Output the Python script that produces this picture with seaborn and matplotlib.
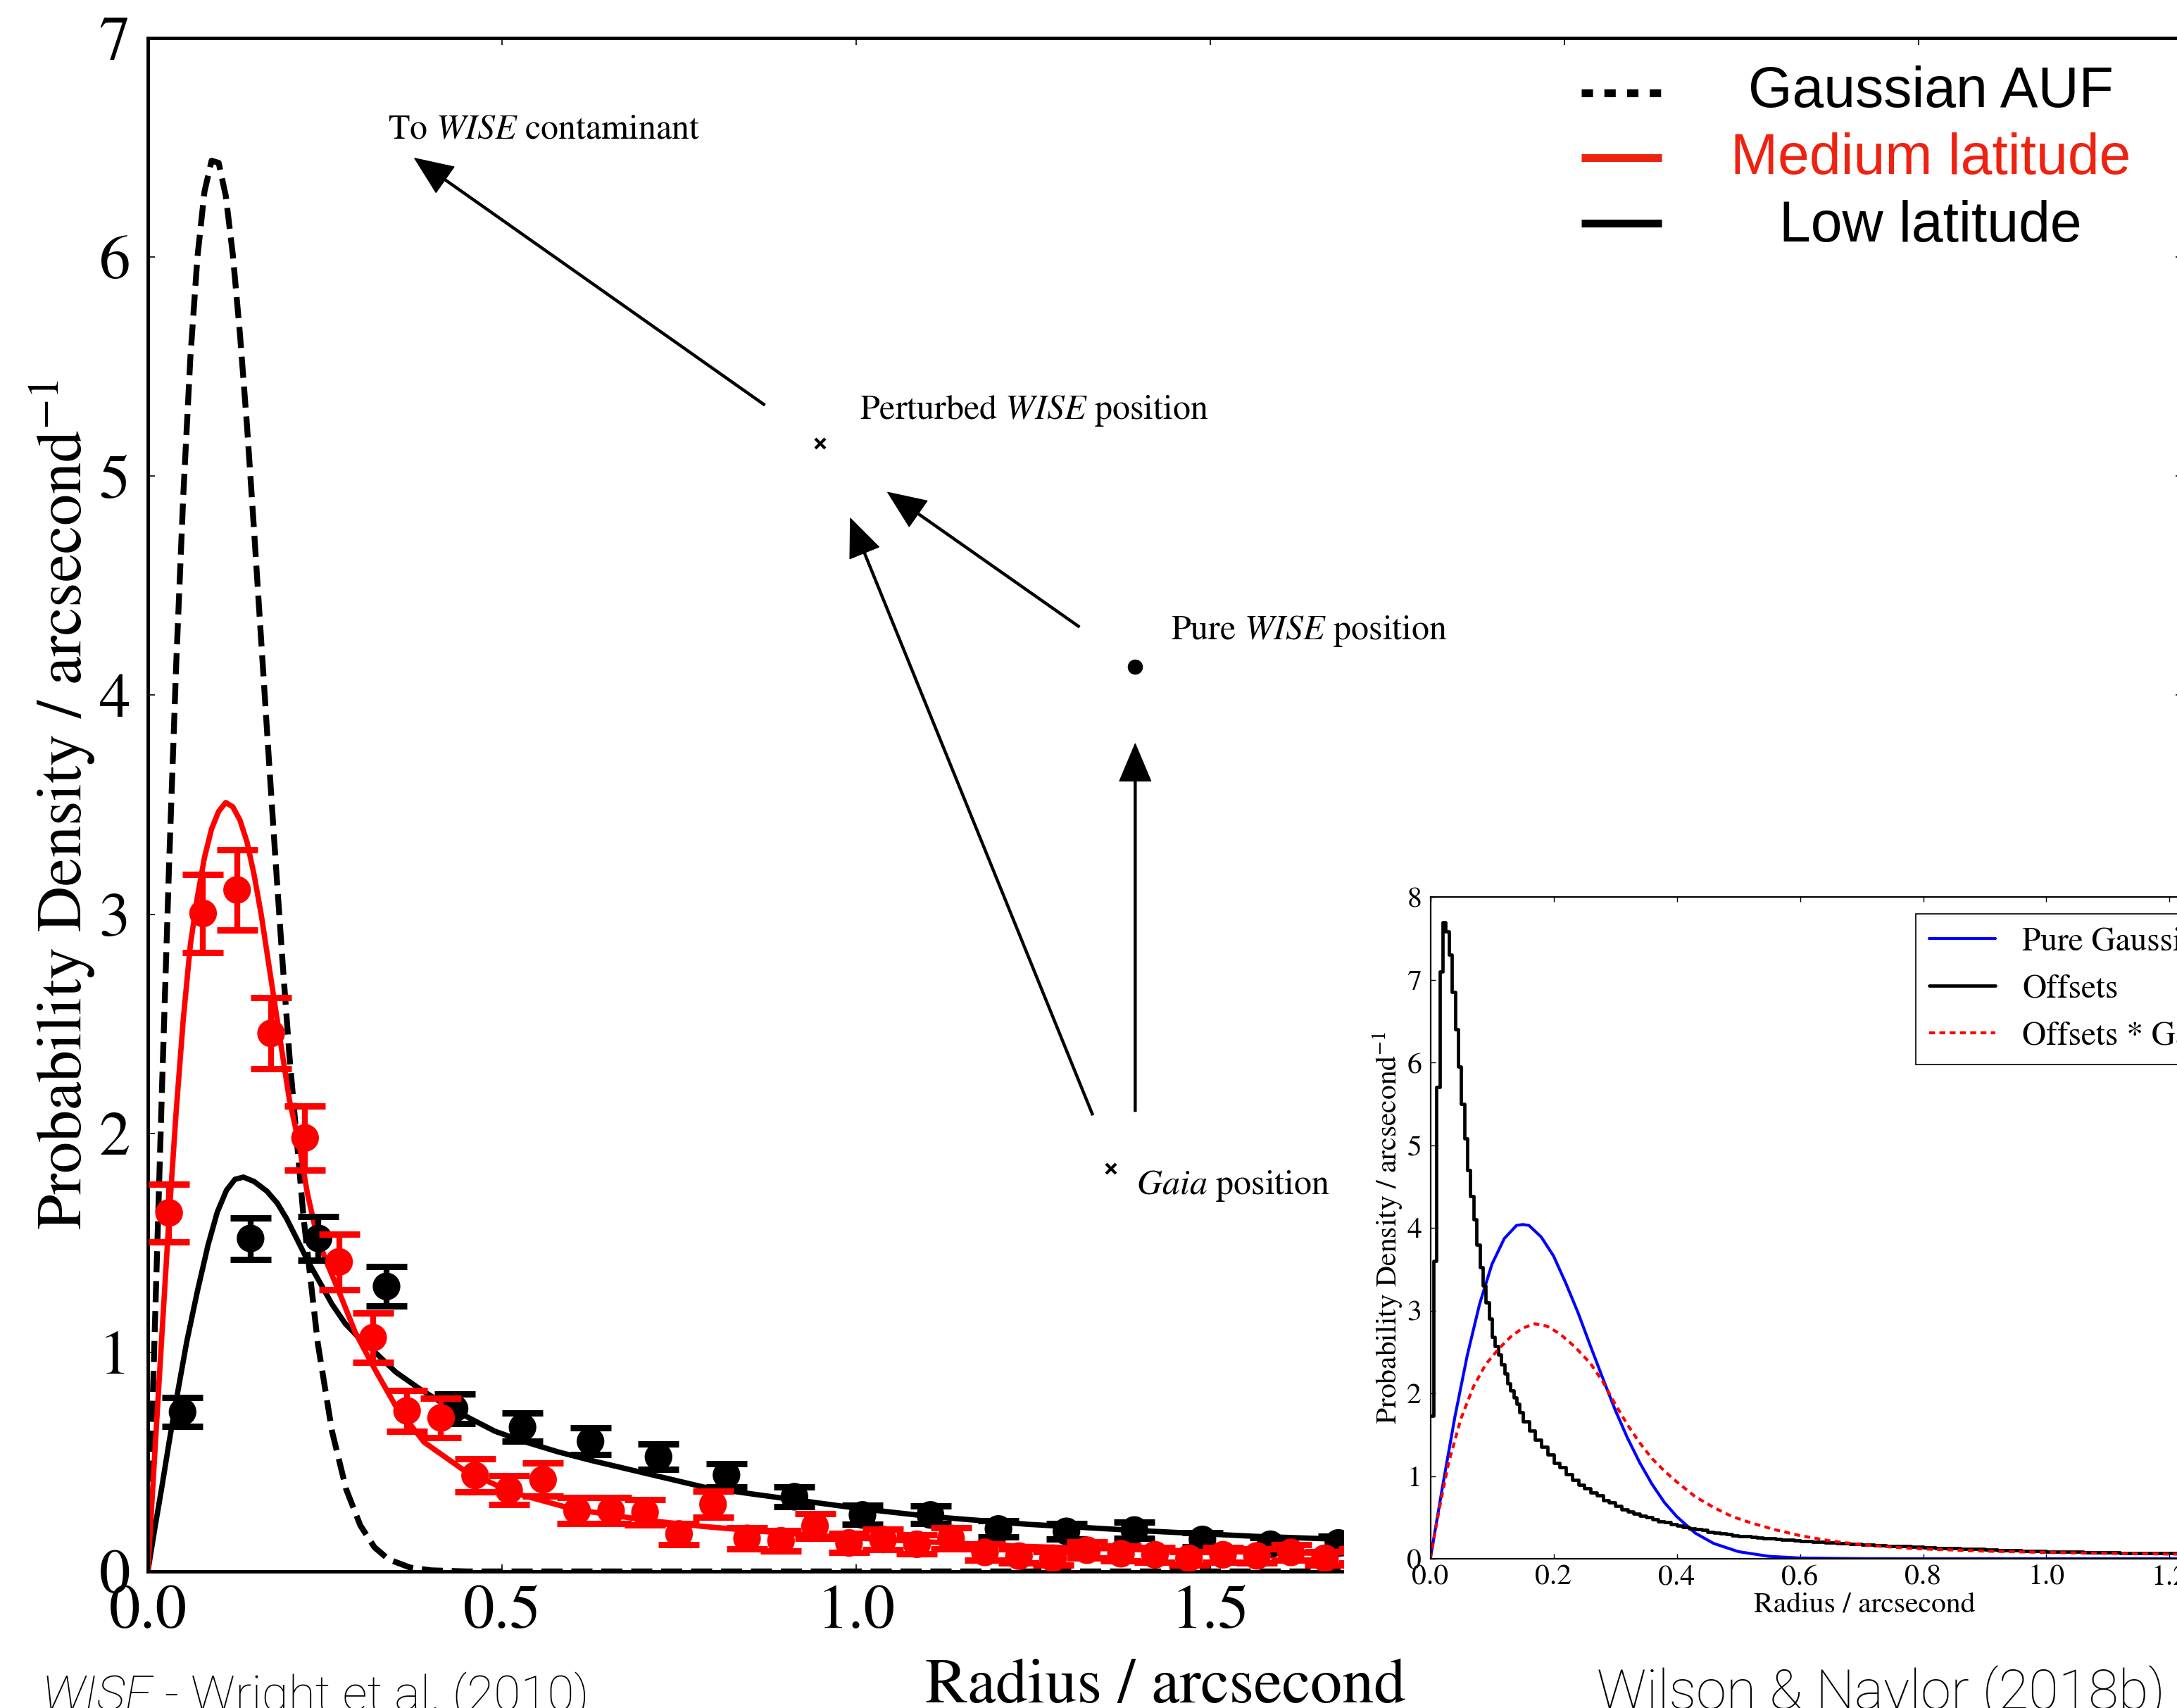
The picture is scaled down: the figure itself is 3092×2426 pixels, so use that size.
import numpy as np
import matplotlib
matplotlib.use("Agg")
import matplotlib.pyplot as plt
import seaborn as sns
from matplotlib.lines import Line2D
from matplotlib.patches import Rectangle

# ---------------- main panel: radial offset distributions ----------------
# Gaussian astrometric uncertainty function
gauss_r = [0.0, 0.01, 0.02, 0.03, 0.04, 0.05, 0.06, 0.07, 0.08, 0.09, 0.10, 0.11,
           0.12, 0.13, 0.14, 0.15, 0.16, 0.17, 0.18, 0.19, 0.20, 0.22, 0.24, 0.26,
           0.28, 0.30, 0.32, 0.34, 0.37, 0.40, 0.45, 0.50, 0.70, 1.00, 1.30, 1.70]
gauss_pdf = [0.0, 1.13, 2.21, 3.23, 4.14, 4.91, 5.54, 6.00, 6.30, 6.44, 6.43, 6.28,
             6.01, 5.65, 5.23, 4.75, 4.25, 3.75, 3.26, 2.79, 2.35, 1.61, 1.04, 0.64,
             0.375, 0.21, 0.11, 0.055, 0.018, 0.005, 0.0, 0.0, 0.0, 0.0, 0.0, 0.0]

# model fit, medium latitude
med_fit_r = [0.0, 0.01, 0.02, 0.03, 0.04, 0.05, 0.06, 0.07, 0.08, 0.09, 0.10, 0.11,
             0.12, 0.13, 0.14, 0.15, 0.16, 0.175, 0.19, 0.20, 0.213, 0.225, 0.2375,
             0.25, 0.272, 0.293, 0.321, 0.349, 0.39, 0.447, 0.515, 0.60, 0.70, 0.785,
             0.885, 0.985, 1.08, 1.24, 1.45, 1.70]
med_fit_pdf = [0.0, 0.55, 1.09, 1.62, 2.10, 2.52, 2.86, 3.08, 3.26, 3.39, 3.47, 3.51,
               3.49, 3.43, 3.33, 3.18, 3.00, 2.68, 2.36, 2.15, 1.96, 1.73, 1.55,
               1.43, 1.26, 1.09, 0.92, 0.76, 0.59, 0.46, 0.36, 0.285, 0.235, 0.205,
               0.178, 0.155, 0.138, 0.114, 0.095, 0.08]

# model fit, low latitude
low_fit_r = [0.0, 0.01, 0.02, 0.03, 0.04, 0.055, 0.07, 0.085, 0.098, 0.111, 0.123,
             0.135, 0.15, 0.168, 0.183, 0.196, 0.21, 0.227, 0.2445, 0.26, 0.279,
             0.30, 0.321, 0.35, 0.384, 0.42, 0.454, 0.49, 0.53, 0.58, 0.628, 0.70,
             0.785, 0.85, 0.911, 1.01, 1.107, 1.2425, 1.395, 1.564, 1.70]
low_fit_pdf = [0.0, 0.20, 0.39, 0.59, 0.78, 1.05, 1.28, 1.49, 1.64, 1.74, 1.79,
               1.80, 1.78, 1.736, 1.68, 1.61, 1.52, 1.41, 1.31, 1.22, 1.13,
               1.06, 1.00, 0.91, 0.833, 0.76, 0.70, 0.64, 0.594, 0.545, 0.505, 0.45,
               0.385, 0.355, 0.328, 0.285, 0.25, 0.215, 0.187, 0.16, 0.145]

# binned WISE-Gaia separations, medium latitude
med_r = [0.030, 0.078, 0.126, 0.174, 0.222, 0.270, 0.318, 0.366, 0.414, 0.462,
         0.510, 0.558, 0.606, 0.654, 0.702, 0.750, 0.798, 0.846, 0.894, 0.942,
         0.990, 1.038, 1.086, 1.134, 1.182, 1.230, 1.278, 1.326, 1.374, 1.422,
         1.470, 1.518, 1.566, 1.614, 1.662, 1.710]
med_pdf = [1.637, 3.004, 3.111, 2.456, 1.979, 1.413, 1.067, 0.733, 0.701, 0.438,
           0.371, 0.419, 0.277, 0.277, 0.270, 0.171, 0.306, 0.151, 0.140, 0.207,
           0.130, 0.146, 0.124, 0.151, 0.087, 0.070, 0.060, 0.097, 0.081, 0.076,
           0.060, 0.076, 0.071, 0.087, 0.060, 0.070]
med_err = [0.132, 0.178, 0.183, 0.162, 0.147, 0.127, 0.112, 0.093, 0.090, 0.075,
           0.066, 0.075, 0.060, 0.060, 0.058, 0.048, 0.060, 0.048, 0.046, 0.056,
           0.044, 0.046, 0.043, 0.047, 0.037, 0.033, 0.030, 0.037, 0.034, 0.033,
           0.030, 0.033, 0.032, 0.035, 0.030, 0.032]

# binned WISE-Gaia separations, low latitude
low_r = [0.049, 0.145, 0.241, 0.337, 0.433, 0.529, 0.625, 0.721, 0.817, 0.913,
         1.009, 1.105, 1.201, 1.297, 1.393, 1.489, 1.585, 1.681]
low_pdf = [0.728, 1.520, 1.520, 1.301, 0.743, 0.658, 0.594, 0.523, 0.440, 0.341,
           0.258, 0.258, 0.194, 0.183, 0.189, 0.146, 0.124, 0.130]
low_err = [0.067, 0.095, 0.100, 0.090, 0.067, 0.064, 0.062, 0.058, 0.053, 0.045,
           0.044, 0.040, 0.038, 0.036, 0.037, 0.032, 0.030, 0.030]

legend_labels = ["Gaussian AUF", "Medium latitude", "Low latitude"]
legend_colors = ["black", "#ee2211", "black"]

# ---------------- inset: perturbation convolution ----------------
inset_gauss_r = [0.0, 0.02, 0.04, 0.06, 0.08, 0.10, 0.12, 0.14, 0.15, 0.16, 0.18,
                 0.20, 0.22, 0.24, 0.26, 0.28, 0.30, 0.32, 0.34, 0.36, 0.38, 0.40,
                 0.43, 0.46, 0.50, 0.55, 0.60, 0.70, 0.80, 1.00, 1.41]
inset_gauss_pdf = [0.0, 0.88, 1.72, 2.46, 3.08, 3.56, 3.87, 4.03, 4.04, 4.03, 3.89,
                   3.66, 3.33, 2.97, 2.57, 2.18, 1.80, 1.46, 1.16, 0.90, 0.68, 0.51,
                   0.31, 0.185, 0.086, 0.029, 0.009, 0.001, 0.0, 0.0, 0.0]

inset_conv_r = [0.0, 0.015, 0.03, 0.05, 0.07, 0.09, 0.11, 0.13, 0.15, 0.17, 0.19,
                0.21, 0.235, 0.26, 0.28, 0.30, 0.32, 0.34, 0.36, 0.38, 0.40, 0.43,
                0.46, 0.49, 0.52, 0.56, 0.60, 0.65, 0.70, 0.75, 0.80, 0.90, 1.00,
                1.10, 1.20, 1.41]
inset_conv_pdf = [0.0, 0.62, 1.17, 1.70, 2.08, 2.35, 2.53, 2.68, 2.79, 2.84, 2.81,
                  2.72, 2.56, 2.36, 2.14, 1.87, 1.62, 1.40, 1.21, 1.06, 0.93, 0.75,
                  0.62, 0.51, 0.435, 0.35, 0.28, 0.215, 0.17, 0.14, 0.118, 0.092,
                  0.076, 0.065, 0.056, 0.045]

# histogram of simulated offsets (fine bins near the peak, wider in the tail)
offset_edges = np.round(np.concatenate([np.linspace(0.0, 0.145, 30),
                                        np.linspace(0.15, 0.59, 45),
                                        np.linspace(0.60, 1.40, 41)]), 4)
offset_pdf = [1.73, 3.60, 5.70, 7.10, 7.69, 7.58, 7.30, 6.85, 6.40, 5.95,
              5.50, 5.08, 4.70, 4.38, 4.10, 3.80, 3.52, 3.30, 3.10, 2.90,
              2.68, 2.57, 2.47, 2.35, 2.24, 2.12, 2.03, 1.95, 1.87, 1.77,
              1.66, 1.55, 1.44, 1.35, 1.26, 1.16, 1.11, 1.02, 0.95, 0.89,
              0.85, 0.80, 0.77, 0.71, 0.68, 0.64, 0.60, 0.57, 0.545, 0.52,
              0.50, 0.475, 0.455, 0.44, 0.42, 0.40, 0.385, 0.37, 0.36, 0.345,
              0.325, 0.315, 0.305, 0.295, 0.285, 0.275, 0.27, 0.262, 0.255, 0.25,
              0.245, 0.24, 0.232, 0.228, 0.222,
              0.215, 0.205, 0.198, 0.188, 0.178, 0.172, 0.163, 0.157, 0.150, 0.142,
              0.136, 0.130, 0.125, 0.120, 0.115, 0.110, 0.106, 0.101, 0.097, 0.093,
              0.089, 0.086, 0.083, 0.080, 0.077, 0.075, 0.072, 0.070, 0.068, 0.066,
              0.064, 0.062, 0.060, 0.058, 0.057, 0.055, 0.054, 0.052, 0.051, 0.050]
inset_labels = ["Pure Gaussian", "Offsets", "Offsets * Gaussian"]

# ---------------- style ----------------
sns.set_theme(style="ticks")
plt.rcParams.update({
    "font.family": ["STIXGeneral", "DejaVu Serif"],
    "mathtext.fontset": "stix",
    "axes.edgecolor": "black",
    "axes.labelcolor": "black",
    "text.color": "black",
    "xtick.color": "black",
    "ytick.color": "black",
    "axes.facecolor": "white",
})

W, H = 3092, 2426
DPI = 100
fig = plt.figure(figsize=(W / DPI, H / DPI), dpi=DPI, facecolor="white")


def fig_box(x0, y0, x1, y1):
    """Pixel box (origin top-left) to a figure-fraction rectangle."""
    return [x0 / W, 1 - y1 / H, (x1 - x0) / W, (y1 - y0) / H]


def fx(px):
    return px / W


def fy(py):
    return 1 - py / H


# ---------------- main axes ----------------
ax = fig.add_axes(fig_box(210, 54, 3100, 2232))
ax.set_zorder(0)

sns.lineplot(x=gauss_r, y=gauss_pdf, ax=ax, color="black", linewidth=6,
             linestyle=(0, (3.6, 1.5)), errorbar=None, zorder=2)
sns.lineplot(x=low_fit_r, y=low_fit_pdf, ax=ax, color="black", linewidth=5.5,
             errorbar=None, zorder=2)
sns.lineplot(x=med_fit_r, y=med_fit_pdf, ax=ax, color="red", linewidth=5.5,
             errorbar=None, zorder=2)

bar_kw = dict(fmt="none", elinewidth=6, capsize=21, capthick=6.5)
ax.errorbar(low_r, low_pdf, yerr=low_err, ecolor="black", zorder=3, **bar_kw)
sns.scatterplot(x=low_r, y=low_pdf, ax=ax, color="black", s=800,
                edgecolor="none", zorder=4)
ax.errorbar(med_r, med_pdf, yerr=med_err, ecolor="red", zorder=5, **bar_kw)
sns.scatterplot(x=med_r, y=med_pdf, ax=ax, color="red", s=800,
                edgecolor="none", zorder=6)

ax.set_xlim(0, 2.873)
ax.set_ylim(0, 7)
ax.set_xticks([0.0, 0.5, 1.0, 1.5, 2.0, 2.5])
ax.set_yticks(range(0, 8))
ax.tick_params(axis="both", which="major", direction="in", length=7, width=1.2,
               labelsize=64, top=True, right=True)
ax.tick_params(axis="x", pad=14)
ax.tick_params(axis="y", pad=18)
for sp in ax.spines.values():
    sp.set_linewidth(3.5)
    sp.set_visible(True)
ax.set_xlabel("Radius / arcsecond", fontsize=65, labelpad=18)
ax.set_ylabel(r"Probability Density / arcsecond$^{-1}$", fontsize=65, labelpad=2)

# schematic of the positional perturbation
arrow_kw = dict(facecolor="black", edgecolor="black", width=2.2, headwidth=32,
                headlength=38, shrink=0.0)
arrows = [((0.8708, 5.325), (0.3767, 6.451)),
          ((1.3151, 4.312), (1.0447, 4.926)),
          ((1.3340, 2.084), (0.9920, 4.807)),
          ((1.3941, 2.100), (1.3941, 3.778))]
for tail, tip in arrows:
    ax.annotate("", xy=tip, xytext=tail, xycoords="data", arrowprops=arrow_kw,
                zorder=7)

ax.plot([0.9493, 1.3604], [5.148, 1.8392], linestyle="none", marker="x",
        markersize=10, markeredgewidth=3, color="black", zorder=7)
ax.plot([1.3941], [4.1286], linestyle="none", marker="o", markersize=14.5,
        color="black", zorder=7)

note_kw = dict(fontsize=36, ha="left", va="baseline", zorder=7)
ax.text(0.339, 6.540, r"To $\mathit{WISE}$ contaminant", **note_kw)
ax.text(1.005, 5.260, r"Perturbed $\mathit{WISE}$ position", **note_kw)
ax.text(1.444, 4.254, r"Pure $\mathit{WISE}$ position", **note_kw)
ax.text(1.3956, 1.7235, r"$\mathit{Gaia}$ position", **note_kw)

# legend of the main panel
sans = ["Liberation Sans", "DejaVu Sans"]
handle_y = [132, 224, 317]
text_base = [152, 247, 343]
handle_styles = [(0, (1.45, 1.45)), "-", "-"]
for lab, col, hy, ty, ls in zip(legend_labels, legend_colors, handle_y,
                                text_base, handle_styles):
    fig.add_artist(Line2D([fx(2246), fx(2360)], [fy(hy), fy(hy)],
                          transform=fig.transFigure, color=col, linewidth=8,
                          linestyle=ls, solid_capstyle="butt",
                          dash_capstyle="butt", zorder=5))
    fig.text(fx(2742), fy(ty), lab, ha="center", va="baseline", fontsize=58,
             family=sans, color=col, zorder=5)

# ---------------- inset ----------------
fig.add_artist(Rectangle((fx(1909), fy(2340)), (W - 1909) / W, (2340 - 1240) / H,
                         transform=fig.transFigure, facecolor="white",
                         edgecolor="none", zorder=1))

ax_in = fig.add_axes(fig_box(2031.5, 1274, 2031.5 + 1.41 * 875, 2214))
ax_in.set_zorder(2)
ax_in.set_facecolor("white")

sns.lineplot(x=inset_gauss_r, y=inset_gauss_pdf, ax=ax_in, color="#0000ff",
             linewidth=3.0, errorbar=None)
step_x = list(offset_edges)
step_y = offset_pdf + [offset_pdf[-1]]
sns.lineplot(x=step_x, y=step_y, ax=ax_in, color="black", linewidth=3.4,
             drawstyle="steps-post", errorbar=None, sort=False)
sns.lineplot(x=inset_conv_r, y=inset_conv_pdf, ax=ax_in, color="red",
             linewidth=3.0, linestyle=(0, (2.0, 1.5)), errorbar=None)

ax_in.set_xlim(0, 1.41)
ax_in.set_ylim(0, 8)
ax_in.set_xticks(np.round(np.arange(0, 1.41, 0.2), 1))
ax_in.set_yticks(range(0, 9))
ax_in.xaxis.set_major_formatter(matplotlib.ticker.FormatStrFormatter("%.1f"))
ax_in.tick_params(axis="both", which="major", direction="in", length=5, width=1,
                  labelsize=30, top=True, right=True)
ax_in.tick_params(axis="x", pad=6)
ax_in.tick_params(axis="y", pad=9)
for sp in ax_in.spines.values():
    sp.set_linewidth(1.6)
    sp.set_visible(True)
ax_in.set_xlabel("Radius / arcsecond", fontsize=30, labelpad=1)
ax_in.set_ylabel(r"Probability Density / arcsecond$^{-1}$", fontsize=30,
                 labelpad=2)

inset_handles = [Line2D([], [], color="#0000ff", linewidth=3.0),
                 Line2D([], [], color="black", linewidth=3.4),
                 Line2D([], [], color="red", linewidth=3.0,
                        linestyle=(0, (2.0, 1.5)))]
leg = ax_in.legend(inset_handles, inset_labels, loc="upper left",
                   bbox_to_anchor=(fx(2721), fy(1298)),
                   bbox_transform=fig.transFigure, borderaxespad=0,
                   fontsize=34, frameon=True, fancybox=False, framealpha=1,
                   edgecolor="black", handlelength=2.0, handletextpad=0.8,
                   labelspacing=0.5, borderpad=0.4)
leg.get_frame().set_linewidth(1.2)

# ---------------- source captions ----------------
cap_font = ["Roboto", "Liberation Sans", "DejaVu Sans"]
renderer = fig.canvas.get_renderer()
t_it = fig.text(fx(60), fy(2429), "WISE", fontsize=50, family=cap_font,
                style="italic", weight="light", va="baseline", zorder=5)
bb = t_it.get_window_extent(renderer=renderer)
fig.text(bb.x1 / W, fy(2429), " - Wright et al. (2010)", fontsize=50,
         family=cap_font, weight="light", va="baseline", zorder=5)
fig.text(fx(2268), fy(2427), "Wilson & Naylor (2018b)", fontsize=56,
         family=cap_font, weight="light", va="baseline", zorder=5)

fig.savefig("out.png", dpi=DPI, facecolor="white")
